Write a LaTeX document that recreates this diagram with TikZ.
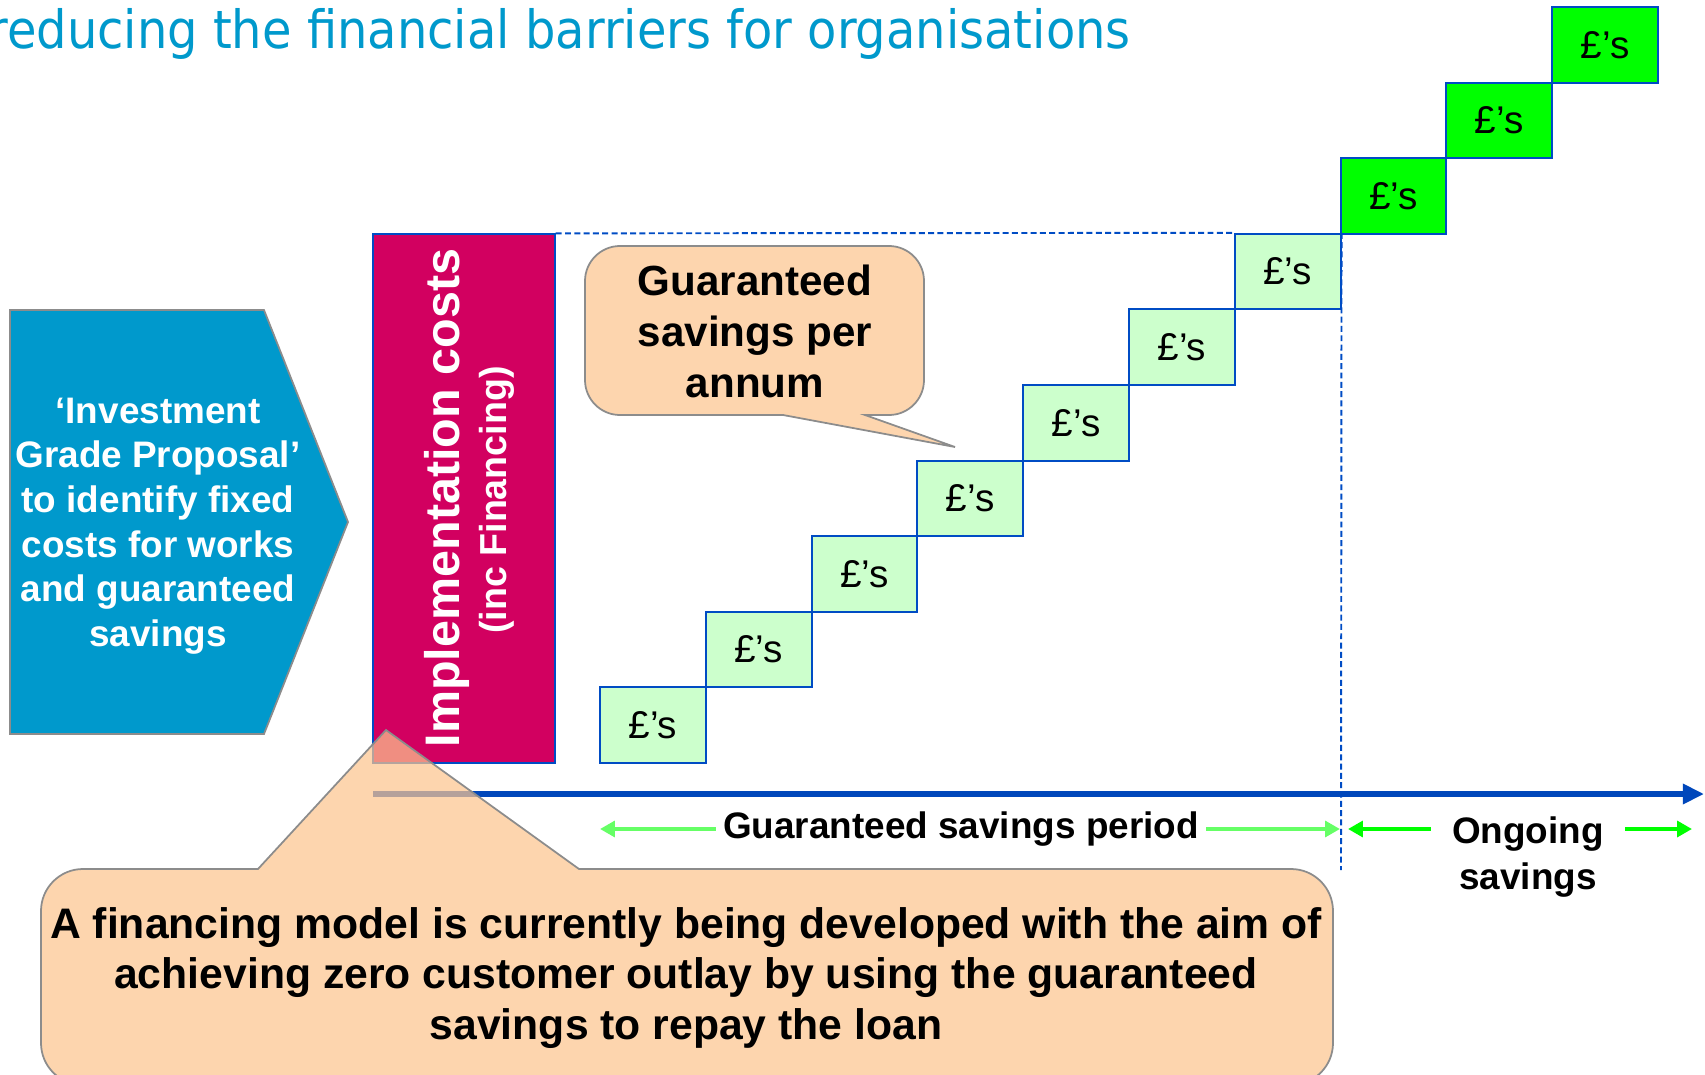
\documentclass[tikz,border=0pt]{standalone}
\usepackage{fontspec}
\setmainfont{Liberation Sans}
\newfontfamily\titlefont[FakeStretch=0.91]{DejaVu Sans}
\usetikzlibrary{arrows.meta}
\definecolor{titleblue}{RGB}{0,153,204}
\definecolor{magentabar}{RGB}{210,0,96}
\definecolor{boxblue}{RGB}{0,76,196}
\definecolor{axisblue}{RGB}{0,71,187}
\definecolor{lightsave}{RGB}{204,255,204}
\definecolor{darksave}{RGB}{0,255,0}
\definecolor{peach}{RGB}{252,197,143}
\definecolor{calloutgray}{RGB}{140,140,140}
\definecolor{softgreen}{RGB}{102,255,102}
\definecolor{brightgreen}{RGB}{0,255,0}
\tikzset{
  saving/.style={draw=boxblue, line width=1.1pt, minimum width=2.116cm, minimum height=1.512cm, inner sep=0pt, font=\fontsize{22}{26}\selectfont},
  callout/.style={draw=calloutgray, line width=1pt, fill=peach, fill opacity=0.72},
  guide/.style={boxblue, line width=1.1pt, dash pattern=on 3.4pt off 1.9pt},
  axis/.style={axisblue, line width=3.2pt, -{Triangle[length=12pt,width=11pt]}},
  softrange/.style={softgreen, line width=2.6pt, -{Triangle[length=8.5pt,width=9pt]}},
  brightrange/.style={brightgreen, line width=2.6pt, -{Triangle[length=8.5pt,width=9pt]}}
}
\begin{document}
\begin{tikzpicture}[x=0.02cm,y=-0.02cm]
\useasboundingbox (0,0) rectangle (1705,1075);
\clip (0,0) rectangle (1705,1075);

\node[anchor=base west, inner sep=0pt, text=titleblue] (title) at (-12,49) {\titlefont\fontsize{30}{36}\selectfont reducing the financial barriers for organisations};

\fill[titleblue] (10,310) -- (264,310) -- (348,522) -- (264,734) -- (10,734) -- cycle;
\draw[calloutgray, line width=1pt] (10,310) -- (264,310) -- (348,522) -- (264,734) -- (10,734) -- cycle;
\node[align=center, text=white, font=\bfseries\fontsize{21}{25.4}\selectfont] (igp) at (158,526) {‘Investment\\Grade Proposal’\\to identify fixed\\costs for works\\and guaranteed\\savings};

\node[draw=boxblue, fill=magentabar, line width=0.8pt, inner sep=0pt, minimum width=3.64cm, minimum height=10.58cm] (impl) at (464,498.5) {};
\node[rotate=90, text=white, font=\bfseries\fontsize{27.6}{32}\selectfont] (implcost) at (447,498) {Implementation costs};
\node[rotate=90, text=white, font=\bfseries\fontsize{21.4}{25}\selectfont] (implfin) at (497,500) {(inc Financing)};

\foreach \i in {0,...,9}{
  \pgfmathsetmacro\cx{652.9+105.8*\i}
  \pgfmathsetmacro\cy{725.2-75.6*\i}
  \ifnum\i<7 \def\sfill{lightsave}\else\def\sfill{darksave}\fi
  \node[saving, fill=\sfill] (sq\i) at (\cx,\cy) {£’s};
}

\coordinate (vend) at (1341,870);
\draw[guide] (impl.north east) -- (sq6.north west);
\draw[guide] (sq6.north east) -- (vend);

\coordinate (t0) at (373,794);
\coordinate (t1) at (1704,794);
\draw[axis] (t0) -- (t1);

\draw[callout] (620,246) -- (889,246) .. controls (908.3,246) and (924,261.7) .. (924,281)
  -- (924,380) .. controls (924,399.3) and (908.3,415) .. (889,415)
  -- (865,415) -- (955,447) -- (783,415)
  -- (620,415) .. controls (600.7,415) and (585,399.3) .. (585,380)
  -- (585,281) .. controls (585,261.7) and (600.7,246) .. (620,246) -- cycle;
\node[align=center, font=\bfseries\fontsize{24}{29}\selectfont] (perannum) at (755,331) {Guaranteed\\savings per\\annum};

\node[inner xsep=4pt, font=\bfseries\fontsize{21}{25}\selectfont] (period) at (961,829) {Guaranteed savings period};
\coordinate (gs0) at (600,829);
\coordinate (gs1) at (1340,829);
\draw[softrange] (period) -- (gs0);
\draw[softrange] (period) -- (gs1);

\node[align=center, inner xsep=12pt, font=\bfseries\fontsize{21}{26}\selectfont] (ongoing) at (1528,857) {Ongoing\\savings};
\coordinate (og0) at (1348,829);
\coordinate (og1) at (1692,829);
\draw[brightrange] (ongoing.west |- og0) -- (og0);
\draw[brightrange] (ongoing.east |- og1) -- (og1);

\draw[callout] (83,869) -- (258,869) -- (386,730) -- (579,869)
  -- (1291,869) .. controls (1314.2,869) and (1333,887.8) .. (1333,911)
  -- (1333,1043) .. controls (1333,1066.2) and (1314.2,1085) .. (1291,1085)
  -- (83,1085) .. controls (59.8,1085) and (41,1066.2) .. (41,1043)
  -- (41,911) .. controls (41,887.8) and (59.8,869) .. (83,869) -- cycle;
\node[align=center, font=\bfseries\fontsize{24.3}{29}\selectfont] (note) at (686,978) {A financing model is currently being developed with the aim of\\achieving zero customer outlay by using the guaranteed\\savings to repay the loan};
\end{tikzpicture}
\end{document}
